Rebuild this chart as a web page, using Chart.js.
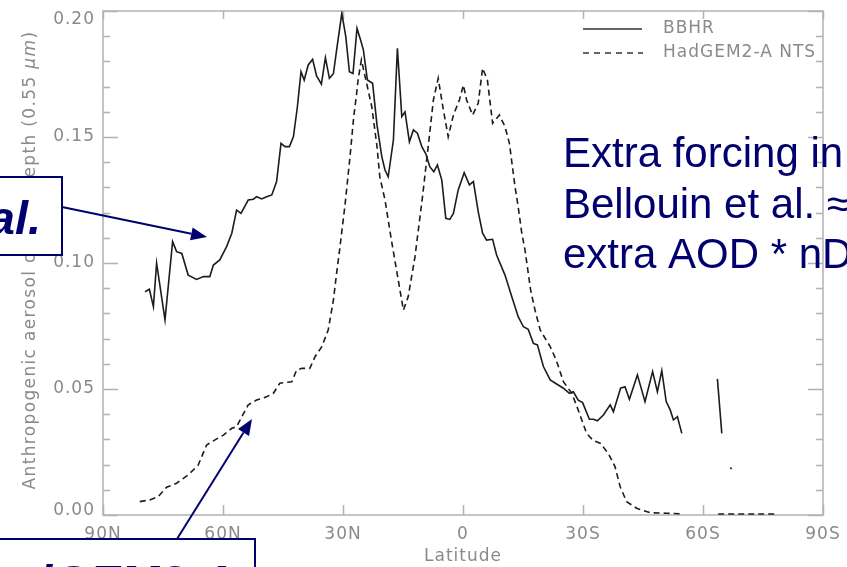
<!DOCTYPE html>
<html>
<head>
<meta charset="utf-8">
<script src="https://cdn.jsdelivr.net/npm/chart.js@4.4.1/dist/chart.umd.min.js"></script>
<style>
  html, body { margin: 0; padding: 0; background: #fff; overflow: hidden; }
  #wrap { width: 847px; height: 567px; position: relative; background: #fff; }
</style>
</head>
<body>
<div id="wrap"><canvas id="c" width="847" height="567"></canvas></div>
<script>
// Zonal-mean anthropogenic AOD at 0.55 um, by latitude (positive = north)
const bbhrLat = [
  79.5, 78.4, 77.4, 76.6, 74.5, 72.6, 71.6, 70.3, 68.7, 66.6,
  64.9, 63.3, 62.4, 60.8, 59.1, 57.8, 56.6, 55.5, 53.7, 52.4,
  51.6, 50.3, 49.1, 47.8, 46.6, 45.5, 44.5, 43.4, 42.4, 41.4,
  40.5, 39.7, 38.7, 37.6, 36.6, 35.4, 34.4, 33.4, 32.4, 31.6,
  30.3, 29.3, 28.4, 27.5, 26.5, 25.6, 24.9, 23.9, 22.6, 21.5,
  20.8, 20.3, 19.5, 18.7, 17.4, 16.4, 15.3, 14.5, 13.4, 12.4,
  11.4, 10.3, 9.3, 8.3, 7.3, 6.4, 5.3, 4.3, 3.3, 2.4,
  1.2, -0.3, -1.6, -2.6, -3.8, -4.9, -5.9, -7.4, -8.4, -10.5,
  -12.2, -13.8, -15.1, -16.3, -17.6, -18.6, -20.1, -21.8, -23.4, -25.1,
  -26.6, -27.6, -28.8, -29.9, -31.6, -32.6, -33.6, -35.1, -36.8, -37.6,
  -39.4, -40.5, -41.6, -43.6, -45.5, -47.4, -48.6, -49.7, -50.8, -51.8,
  -52.6, -53.6, -54.7, -59.0, -63.6, -64.7, -66.0, -66.8, -67.2
];
const bbhrAod = [
  0.0886, 0.0896, 0.0827, 0.0999, 0.0774, 0.1085, 0.1045, 0.1038, 0.0952, 0.0935,
  0.0946, 0.0946, 0.0992, 0.1012, 0.1065, 0.1118, 0.1210, 0.1197, 0.1250, 0.1253,
  0.1263, 0.1254, 0.1263, 0.1270, 0.1323, 0.1475, 0.1462, 0.1462, 0.1501, 0.1620,
  0.1759, 0.1726, 0.1786, 0.1808, 0.1742, 0.1710, 0.1815, 0.1733, 0.1751, 0.1845,
  0.1991, 0.1898, 0.1759, 0.1752, 0.1931, 0.1885, 0.1845, 0.1726, 0.1713, 0.1548,
  0.1475, 0.1422, 0.1369, 0.1342, 0.1488, 0.1852, 0.1581, 0.1600, 0.1481, 0.1528,
  0.1515, 0.1462, 0.1433, 0.1382, 0.1362, 0.1389, 0.1329, 0.1177, 0.1173, 0.1197,
  0.1290, 0.1358, 0.1310, 0.1323, 0.1204, 0.1118, 0.1091, 0.1094, 0.1032, 0.0952,
  0.0866, 0.0787, 0.0747, 0.0737, 0.0681, 0.0675, 0.0589, 0.0536, 0.0520, 0.0503,
  0.0483, 0.0489, 0.0456, 0.0446, 0.0380, 0.0380, 0.0374, 0.0397, 0.0437, 0.0410,
  0.0503, 0.0509, 0.0459, 0.0556, 0.0450, 0.0569, 0.0489, 0.0573, 0.0450, 0.0417,
  0.0377, 0.0390, 0.0324, null, 0.0540, 0.0324, null, 0.0188, 0.0183
];

const ntsLat = [
  80.8, 78.3, 76.2, 74.1, 71.6, 68.7, 66.2, 64.1, 62.0, 59.9,
  57.8, 56.6, 55.3, 53.7, 51.6, 49.1, 47.4, 45.8, 42.8, 41.6,
  40.3, 38.3, 37.0, 35.3, 33.7, 32.4, 31.6, 30.8, 29.5, 28.3,
  27.3, 26.6, 26.2, 25.4, 24.1, 22.8, 21.5, 20.8, 19.5, 17.9,
  14.9, 13.7, 12.0, 10.1, 8.7, 7.4, 6.2, 4.9, 3.7, 2.4,
  0.9, -0.1, -0.9, -2.4, -3.8, -4.9, -6.1, -7.4, -9.1, -10.5,
  -11.6, -13.0, -13.8, -14.7, -15.5, -16.9, -18.0, -19.3, -21.8, -23.3,
  -25.1, -27.2, -28.8, -30.9, -32.6, -34.3, -36.3, -38.0, -39.3, -40.9,
  -43.4, -46.8, -50.9, -55.1, -59.0, -63.8, -78.8
];
const ntsAod = [
  0.0053, 0.0060, 0.0073, 0.0110, 0.0126, 0.0159, 0.0198, 0.0278, 0.0298, 0.0317,
  0.0344, 0.0350, 0.0390, 0.0437, 0.0456, 0.0469, 0.0483, 0.0523, 0.0529, 0.0575,
  0.0582, 0.0582, 0.0628, 0.0668, 0.0734, 0.0853, 0.0959, 0.1058, 0.1230, 0.1413,
  0.1583, 0.1671, 0.1730, 0.1806, 0.1713, 0.1620, 0.1462, 0.1342, 0.1250, 0.1091,
  0.0813, 0.0866, 0.1025, 0.1266, 0.1462, 0.1647, 0.1733, 0.1607, 0.1501, 0.1587,
  0.1647, 0.1706, 0.1647, 0.1587, 0.1634, 0.1773, 0.1726, 0.1554, 0.1587, 0.1541,
  0.1475, 0.1303, 0.1223, 0.1118, 0.1052, 0.0893, 0.0813, 0.0734, 0.0668, 0.0615,
  0.0529, 0.0483, 0.0417, 0.0324, 0.0295, 0.0285, 0.0245, 0.0192, 0.0112, 0.0053,
  0.0027, 0.0009, 0.0007, 0.0004, null, 0.0004, 0.0004
];

const latTicks  = [90, 60, 30, 0, -30, -60, -90];
const latLabels = ['90N', '60N', '30N', '0', '30S', '60S', '90S'];
const aodTicks  = [0, 0.05, 0.10, 0.15, 0.20];
const aodLabels = ['0.00', '0.05', '0.10', '0.15', '0.20'];
const seriesNames = ['BBHR', 'HadGEM2-A NTS'];

const NAVY = '#00006e';
const AXIS_GREY = '#b2b2b2';
const TEXT_GREY = '#8a8a8a';
const LINE_COL = '#1c1c1c';
const SANS = "'DejaVu Sans', sans-serif";
const ARIAL = "'Liberation Sans', Arial, sans-serif";

function toPoints(xs, ys) {
  return xs.map((x, i) => ({ x: x, y: ys[i] }));
}

function drawArrow(ctx, x1, y1, x2, y2) {
  const a = Math.atan2(y2 - y1, x2 - x1);
  const head = 16, half = 6.5;
  const bx = x2 - head * Math.cos(a), by = y2 - head * Math.sin(a);
  ctx.beginPath();
  ctx.moveTo(x1, y1);
  ctx.lineTo(bx, by);
  ctx.stroke();
  ctx.beginPath();
  ctx.moveTo(x2, y2);
  ctx.lineTo(bx + half * Math.sin(a), by - half * Math.cos(a));
  ctx.lineTo(bx - half * Math.sin(a), by + half * Math.cos(a));
  ctx.closePath();
  ctx.fill();
}

// Box frame with inward ticks on all four sides, legend, axis title and callouts
const decorations = {
  id: 'decorations',
  beforeDraw(chart) {
    chart.ctx.letterSpacing = '1px';
  },
  beforeDatasetsDraw(chart) {
    const { ctx, chartArea: ca, scales } = chart;
    const xs = scales.x, ys = scales.y;
    ctx.save();
    ctx.strokeStyle = AXIS_GREY;
    ctx.lineWidth = 1.5;
    ctx.strokeRect(ca.left, ca.top, ca.right - ca.left, ca.bottom - ca.top);
    ctx.beginPath();
    for (let i = 0; i <= 20; i++) {
      const py = Math.round(ys.getPixelForValue(i / 100)) + 0.5;
      const len = (i % 5 === 0) ? 15 : 7;
      ctx.moveTo(ca.left, py); ctx.lineTo(ca.left + len, py);
      ctx.moveTo(ca.right, py); ctx.lineTo(ca.right - len, py);
    }
    latTicks.forEach(v => {
      const px = Math.round(xs.getPixelForValue(v)) + 0.5;
      ctx.moveTo(px, ca.bottom); ctx.lineTo(px, ca.bottom - 10);
      ctx.moveTo(px, ca.top); ctx.lineTo(px, ca.top + 8);
    });
    ctx.stroke();
    ctx.restore();
  },
  afterDatasetsDraw(chart) {
    const { ctx } = chart;
    ctx.save();
    // legend
    ctx.strokeStyle = '#333';
    ctx.lineWidth = 1.5;
    ctx.beginPath(); ctx.moveTo(583, 29); ctx.lineTo(642, 29); ctx.stroke();
    ctx.setLineDash([6, 5]);
    ctx.beginPath(); ctx.moveTo(583, 53); ctx.lineTo(643, 53); ctx.stroke();
    ctx.setLineDash([]);
    ctx.fillStyle = TEXT_GREY;
    ctx.font = '17px ' + SANS;
    ctx.textBaseline = 'middle';
    ctx.textAlign = 'left';
    ctx.fillText(seriesNames[0], 663, 29);
    ctx.fillText(seriesNames[1], 663, 53);

    // y axis title, rotated
    ctx.letterSpacing = '1.35px';
    ctx.translate(31, 260);
    ctx.rotate(-Math.PI / 2);
    const p1 = 'Anthropogenic aerosol optical depth (0.55 ';
    const p2 = '\u03bcm';
    const p3 = ')';
    const fN = '17px ' + SANS, fI = 'italic 17px ' + SANS;
    ctx.font = fN; const w1 = ctx.measureText(p1).width;
    const w3 = ctx.measureText(p3).width;
    ctx.font = fI; const w2 = ctx.measureText(p2).width;
    let x0 = -(w1 + w2 + w3) / 2;
    ctx.font = fN; ctx.fillText(p1, x0, 0);
    ctx.font = fI; ctx.fillText(p2, x0 + w1, 0);
    ctx.font = fN; ctx.fillText(p3, x0 + w1 + w2, 0);
    ctx.restore();
  },
  afterDraw(chart) {
    const { ctx, scales } = chart;
    const xs = scales.x, ys = scales.y;
    ctx.save();
    ctx.letterSpacing = '0px';
    ctx.strokeStyle = NAVY;
    ctx.fillStyle = NAVY;
    ctx.lineWidth = 2;

    // callout arrows, tips placed in data space
    drawArrow(ctx, 62, 207, xs.getPixelForValue(64.0), ys.getPixelForValue(0.1103));
    drawArrow(ctx, 177, 539, xs.getPixelForValue(52.75), ys.getPixelForValue(0.0381));

    // boxed labels
    ctx.fillStyle = '#fff';
    ctx.fillRect(-5, 177, 67, 78);
    ctx.strokeRect(-5, 177, 67, 78);
    ctx.fillRect(-5, 539, 260, 40);
    ctx.strokeRect(-5, 539, 260, 40);

    ctx.fillStyle = NAVY;
    ctx.font = 'italic bold 47px ' + ARIAL;
    ctx.textBaseline = 'alphabetic';
    ctx.textAlign = 'right';
    ctx.fillText('al.', 41, 234);
    ctx.fillText('HadGEM2-A', 235, 598);

    // note on the right
    ctx.textAlign = 'left';
    ctx.font = '42px ' + ARIAL;
    ctx.fillText('Extra forcing in', 563, 167);
    ctx.fillText('Bellouin et al. \u2248', 563, 218);
    ctx.fillText('extra AOD * nD', 563, 268);
    ctx.restore();
  }
};

Chart.defaults.font.family = SANS;

new Chart(document.getElementById('c'), {
  type: 'line',
  data: {
    datasets: [
      {
        label: seriesNames[0],
        data: toPoints(bbhrLat, bbhrAod),
        borderColor: LINE_COL,
        borderWidth: 1.6,
        pointRadius: 0,
        tension: 0,
        spanGaps: false,
        fill: false
      },
      {
        label: seriesNames[1],
        data: toPoints(ntsLat, ntsAod),
        borderColor: LINE_COL,
        borderWidth: 1.6,
        borderDash: [6, 4],
        pointRadius: 0,
        tension: 0,
        spanGaps: false,
        fill: false
      }
    ]
  },
  options: {
    responsive: false,
    animation: false,
    devicePixelRatio: 1,
    layout: { padding: { left: 0, right: 24, top: 11, bottom: 0 } },
    plugins: { legend: { display: false }, tooltip: { enabled: false } },
    scales: {
      x: {
        type: 'linear',
        min: -90,
        max: 90,
        reverse: true,
        grid: { display: false, drawTicks: false },
        border: { display: false },
        afterBuildTicks: s => { s.ticks = latTicks.map(v => ({ value: v })); },
        afterFit: s => { s.height = 52; s.paddingLeft = 0; s.paddingRight = 0; },
        ticks: {
          autoSkip: false,
          maxRotation: 0,
          padding: 9,
          color: TEXT_GREY,
          font: { size: 17 },
          callback: v => latLabels[latTicks.indexOf(v)]
        },
        title: {
          display: true,
          text: 'Latitude',
          color: TEXT_GREY,
          font: { size: 17 },
          padding: { top: 0, bottom: 0 }
        }
      },
      y: {
        type: 'linear',
        min: 0,
        max: 0.2,
        grid: { display: false, drawTicks: false },
        border: { display: false },
        afterBuildTicks: s => { s.ticks = aodTicks.map(v => ({ value: v })); },
        afterFit: s => { s.width = 103; s.paddingTop = 0; s.paddingBottom = 0; },
        ticks: {
          padding: 8,
          color: TEXT_GREY,
          font: ctx => {
            const v = ctx.tick ? ctx.tick.value : null;
            if (v === 0) return { size: 17, lineHeight: '9px' };
            if (v !== null && Math.abs(v - 0.2) < 1e-9) return { size: 17, lineHeight: '18px' };
            return { size: 17 };
          },
          callback: v => {
            const i = aodTicks.findIndex(t => Math.abs(t - v) < 1e-9);
            const s = aodLabels[i];
            if (i === 0) return [s, ''];
            if (i === aodTicks.length - 1) return ['', s];
            return s;
          }
        }
      }
    }
  },
  plugins: [decorations]
});
</script>
</body>
</html>
